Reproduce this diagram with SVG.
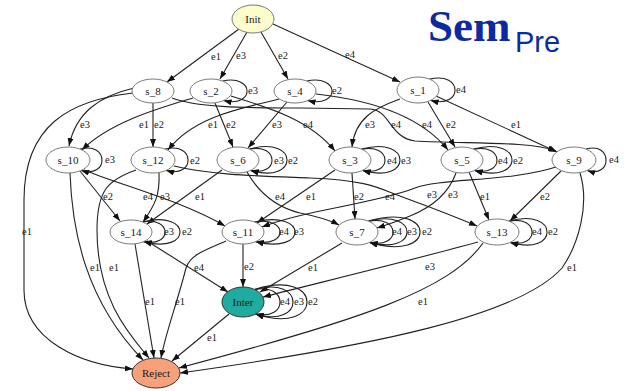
<svg xmlns="http://www.w3.org/2000/svg" width="628" height="391" viewBox="0 0 628 391">
  <style>
    .e { fill: none; stroke: #222; stroke-width: 1.1; marker-end: url(#ah); }
    .lbl { font-family: "Liberation Serif", "Times New Roman", serif; font-size: 10.5px; fill: #1a1a1a; text-anchor: middle; }
    .node ellipse { fill: #ffffff; stroke: #7a7a7a; stroke-width: 1; }
    .node text { font-family: "Liberation Serif", "Times New Roman", serif; font-size: 11px; fill: #1a1a1a; text-anchor: middle; }
  </style>
  <defs>
    <marker id="ah" viewBox="0 0 8 6" refX="8" refY="3" markerWidth="8" markerHeight="6" markerUnits="userSpaceOnUse" orient="auto">
      <path d="M0,0 L8,3 L0,6 z" fill="#111"/>
    </marker>
  </defs>
  <rect width="628" height="391" fill="#ffffff"/>

  <!-- title -->
  <g id="title" fill="#0d2b9f">
    <text x="428" y="41" font-family="Liberation Serif, Times New Roman, serif" font-size="45" font-weight="bold">Sem</text>
    <text x="515" y="52" font-family="Liberation Sans, Arial, sans-serif" font-size="29">Pre</text>
  </g>

  <g id="connectors">
    <!-- from Init -->
    <path class="e" d="M239,29 L167,82"/>
    <path class="e" d="M247,32 L220,79"/>
    <path class="e" d="M261,32 L288,79"/>
    <path class="e" d="M273,24 L400,82"/>
    <!-- upper layer -->
    <path class="e" d="M134,88 C100,96 76,112 69,146"/>
    <path class="e" d="M133,93 C70,100 24,125 24,200 L24,290 C24,340 80,365 133,369"/>
    <path class="e" d="M153,103 L153,147"/>
    <path class="e" d="M193,98 C160,108 110,122 82,150"/>
    <path class="e" d="M215,103 L233,147"/>
    <path class="e" d="M287,102 L248,148"/>
    <path class="e" d="M279,99 C245,108 195,115 168,150"/>
    <path class="e" d="M231,96 C270,108 310,120 335,151"/>
    <path class="e" d="M172,98 C195,107 240,108 300,108 L370,109 C390,110 390,138 415,141 C470,144 530,141 556,151"/>
    <path class="e" d="M316,94 C370,100 420,115 448,150"/>
    <path class="e" d="M400,99 C375,108 355,118 352,147"/>
    <path class="e" d="M428,102 L455,147"/>
    <path class="e" d="M436,96 L557,152"/>
    <!-- middle layer -->
    <path class="e" d="M80,171 L120,221"/>
    <path class="e" d="M84,170 C120,185 180,200 225,226"/>
    <path class="e" d="M159,173 C160,195 155,205 143,222"/>
    <path class="e" d="M222,170 L147,224"/>
    <path class="e" d="M136,170 C108,180 97,190 97,230 C97,300 130,335 149,358"/>
    <path class="e" d="M70,173 C72,230 85,300 143,360"/>
    <path class="e" d="M247,172 C260,195 280,208 300,213 C315,216 328,219 339,225"/>
    <path class="e" d="M352,173 L355,219"/>
    <path class="e" d="M335,170 L257,223"/>
    <path class="e" d="M556,167 C510,182 440,178 415,188 C395,196 360,203 330,209 C300,215 280,220 262,227"/>
    <path class="e" d="M456,173 C448,195 430,208 410,216 C398,221 390,224 377,228"/>
    <path class="e" d="M174,166 C210,175 260,176 310,178 C360,180 375,186 392,193 C410,200 440,210 477,226"/>
    <path class="e" d="M469,172 L489,220"/>
    <path class="e" d="M561,171 L510,221"/>
    <!-- lower layer -->
    <path class="e" d="M135,244 L154,358"/>
    <path class="e" d="M226,241 C205,250 190,255 186,268 C178,300 165,335 161,358"/>
    <path class="e" d="M147,241 L228,292"/>
    <path class="e" d="M243,244 L243,287"/>
    <path class="e" d="M342,243 L260,292"/>
    <path class="e" d="M478,242 C420,258 330,280 263,297"/>
    <path class="e" d="M229,314 L172,361"/>
    <path class="e" d="M483,243 C450,290 360,320 179,368"/>
    <path class="e" d="M580,173 C590,205 578,245 562,268 C520,315 380,345 180,373"/>

    <!-- self loops -->
    <path class="e" d="M222.6,81 C255,74 255,108 223.6,100.6"/>
    <path class="e" d="M306.6,81 C340.3,74 340.3,108 307.6,100.6"/>
    <path class="e" d="M429.6,79.1 C463.3,71 463.3,109 430.6,100.4"/>
    <path class="e" d="M80.1,149.1 C109.1,141 109.1,179 81.2,170.4"/>
    <path class="e" d="M165.1,149.1 C195.5,141 195.5,179 166.2,170.4"/>
    <path class="e" d="M249.6,149.1 C279.3,143 279.3,177 250.6,170.4"/>
    <path class="e" d="M249.6,149.1 C299.3,135 299.3,185 250.6,170.4"/>
    <path class="e" d="M361.6,149.1 C392.6,143 392.6,177 362.6,170.4"/>
    <path class="e" d="M361.6,149.1 C412.6,135 412.6,185 362.6,170.4"/>
    <path class="e" d="M473.6,149.1 C504.6,143 504.6,177 474.6,170.4"/>
    <path class="e" d="M473.6,149.1 C524.6,135 524.6,185 474.6,170.4"/>
    <path class="e" d="M586.1,149.1 C612.5,141 612.5,179 587.2,170.4"/>
    <path class="e" d="M142.6,222 C172.3,216.4 172.3,247.6 143.6,241.6"/>
    <path class="e" d="M142.6,222 C192.3,209 192.3,255 143.6,241.6"/>
    <path class="e" d="M254.6,222 C288.3,216.4 288.3,247.6 255.6,241.6"/>
    <path class="e" d="M254.6,222 C308.3,209 308.3,255 255.6,241.6"/>
    <path class="e" d="M368.6,221.1 C401,215 401,249 369.6,242.4"/>
    <path class="e" d="M368.6,221.1 C419.6,208 419.6,256 369.6,242.4"/>
    <path class="e" d="M368.6,221.1 C437,201 437,263 369.6,242.4"/>
    <path class="e" d="M509.1,221.1 C539.5,215 539.5,249 510.2,242.4"/>
    <path class="e" d="M509.1,221.1 C559.5,207 559.5,257 510.2,242.4"/>
    <path class="e" d="M254.6,289.5 C288.3,283 288.3,321 255.6,314"/>
    <path class="e" d="M254.6,289.5 C305.6,275 305.6,329 255.6,314"/>
    <path class="e" d="M254.6,289.5 C324.3,267 324.3,337 255.6,314"/>

    <!-- edge labels -->
    <g class="lbl">
      <text x="216" y="60">e1</text>
      <text x="241" y="59">e3</text>
      <text x="283" y="59">e2</text>
      <text x="350" y="58">e4</text>
      <text x="253" y="94">e3</text>
      <text x="337" y="94">e2</text>
      <text x="461" y="93">e4</text>
      <text x="85" y="128">e3</text>
      <text x="144" y="128">e1</text>
      <text x="159" y="128">e2</text>
      <text x="213" y="128">e1</text>
      <text x="231" y="128">e2</text>
      <text x="277" y="128">e3</text>
      <text x="308" y="128">e4</text>
      <text x="370" y="128">e3</text>
      <text x="396" y="128">e4</text>
      <text x="427" y="128">e4</text>
      <text x="451" y="128">e2</text>
      <text x="516" y="128">e1</text>
      <text x="110" y="163">e3</text>
      <text x="195" y="164">e2</text>
      <text x="279" y="164">e3</text>
      <text x="293" y="164">e2</text>
      <text x="392" y="164">e4</text>
      <text x="406" y="164">e3</text>
      <text x="503" y="164">e4</text>
      <text x="518" y="164">e2</text>
      <text x="614" y="163">e4</text>
      <text x="108" y="200">e2</text>
      <text x="148" y="200">e4</text>
      <text x="165" y="200">e3</text>
      <text x="200" y="200">e1</text>
      <text x="280" y="200">e4</text>
      <text x="311" y="200">e1</text>
      <text x="359" y="200">e2</text>
      <text x="390" y="200">e4</text>
      <text x="432" y="198">e3</text>
      <text x="453" y="198">e3</text>
      <text x="485" y="200">e1</text>
      <text x="545" y="200">e2</text>
      <text x="169" y="235">e3</text>
      <text x="187" y="235">e2</text>
      <text x="284" y="235">e4</text>
      <text x="299" y="235">e3</text>
      <text x="397" y="235">e4</text>
      <text x="412" y="235">e3</text>
      <text x="427" y="235">e2</text>
      <text x="537" y="235">e4</text>
      <text x="553" y="235">e2</text>
      <text x="27" y="235">e1</text>
      <text x="95" y="271">e1</text>
      <text x="114" y="271">e1</text>
      <text x="199" y="271">e4</text>
      <text x="249" y="270">e2</text>
      <text x="313" y="271">e1</text>
      <text x="430" y="270">e3</text>
      <text x="572" y="271">e1</text>
      <text x="285" y="305">e4</text>
      <text x="299" y="305">e3</text>
      <text x="313" y="305">e2</text>
      <text x="150" y="305">e1</text>
      <text x="180" y="305">e1</text>
      <text x="423" y="305">e1</text>
      <text x="212" y="341">e1</text>
    </g>
  </g>

  <!-- states -->
  <g id="Init" class="node"><ellipse cx="253" cy="19" rx="21" ry="14" style="fill:#fdfccb"/><text x="253" y="23">Init</text></g>
  <g id="s_8" class="node"><ellipse cx="153" cy="91" rx="21" ry="12"/><text x="153" y="95">s_8</text></g>
  <g id="s_2" class="node"><ellipse cx="211" cy="91" rx="21" ry="12"/><text x="211" y="95">s_2</text></g>
  <g id="s_4" class="node"><ellipse cx="295" cy="91" rx="21" ry="12"/><text x="295" y="95">s_4</text></g>
  <g id="s_1" class="node"><ellipse cx="418" cy="90" rx="21" ry="13"/><text x="418" y="94">s_1</text></g>
  <g id="s_10" class="node"><ellipse cx="68" cy="160" rx="22" ry="13"/><text x="68" y="164">s_10</text></g>
  <g id="s_12" class="node"><ellipse cx="153" cy="160" rx="22" ry="13"/><text x="153" y="164">s_12</text></g>
  <g id="s_6" class="node"><ellipse cx="238" cy="160" rx="21" ry="13"/><text x="238" y="164">s_6</text></g>
  <g id="s_3" class="node"><ellipse cx="350" cy="160" rx="21" ry="13"/><text x="350" y="164">s_3</text></g>
  <g id="s_5" class="node"><ellipse cx="462" cy="160" rx="21" ry="13"/><text x="462" y="164">s_5</text></g>
  <g id="s_9" class="node"><ellipse cx="574" cy="160" rx="22" ry="13"/><text x="574" y="164">s_9</text></g>
  <g id="s_14" class="node"><ellipse cx="131" cy="232" rx="21" ry="12"/><text x="131" y="236">s_14</text></g>
  <g id="s_11" class="node"><ellipse cx="243" cy="232" rx="21" ry="12"/><text x="243" y="236">s_11</text></g>
  <g id="s_7" class="node"><ellipse cx="357" cy="232" rx="21" ry="13"/><text x="357" y="236">s_7</text></g>
  <g id="s_13" class="node"><ellipse cx="497" cy="232" rx="22" ry="13"/><text x="497" y="236">s_13</text></g>
  <g id="Inter" class="node"><ellipse cx="243" cy="302" rx="21" ry="15" style="fill:#1fab9f;stroke:#333"/><text x="243" y="306">Inter</text></g>
  <g id="Reject" class="node"><ellipse cx="156" cy="373" rx="24" ry="15" style="fill:#f8a07a;stroke:#333"/><text x="156" y="377">Reject</text></g>
</svg>
